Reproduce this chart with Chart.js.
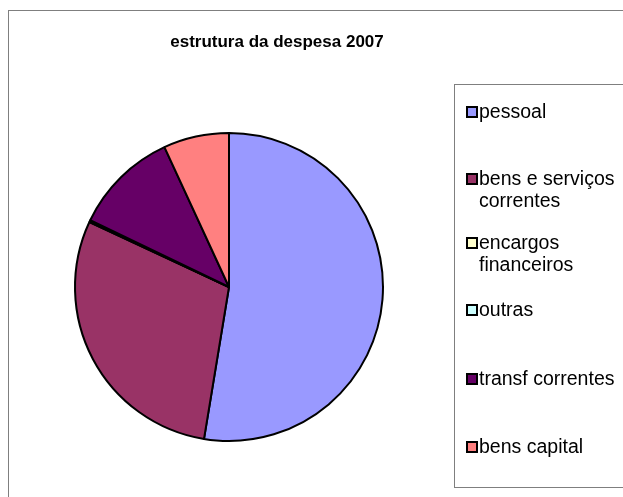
<!DOCTYPE html>
<html>
<head>
<meta charset="utf-8">
<script src="https://cdn.jsdelivr.net/npm/chart.js@4"></script>
<style>
    html, body { margin: 0; padding: 0; background: #fff; }
    #wrap { position: relative; width: 623px; height: 497px; overflow: hidden; font-family: "Liberation Sans", Arial, sans-serif; }
    #frame { position: absolute; left: 8px; top: 10px; width: 700px; height: 600px; border: 1px solid #7f7f7f; box-sizing: border-box; }
    #title { position: absolute; left: 0; width: 554px; top: 32px; text-align: center; font-weight: bold; font-size: 17px; color: #000; }
    #legend { position: absolute; left: 454px; top: 84px; width: 300px; height: 404px; border: 1px solid #7f7f7f; box-sizing: border-box; }
    .item { position: absolute; left: 11px; display: flex; align-items: flex-start; }
    .sw { width: 8px; height: 8px; border: 2px solid #000; margin-top: 6px; margin-right: 1px; flex: none; }
    .txt { width: 150px; font-size: 19.5px; line-height: 22px; color: #000; }
    canvas { position: absolute; left: 0; top: 0; }
</style>
</head>
<body>
<div id="wrap">
    <div id="frame"></div>
    <canvas id="pieChart" width="623" height="497"></canvas>
    <div id="title">estrutura da despesa 2007</div>
    <div id="legend"></div>
</div>
<script>
const labels = ['pessoal', 'bens e serviços correntes', 'encargos financeiros', 'outras', 'transf correntes', 'bens capital'];
const values = [52.7, 29.4, 0.1, 0.1, 11.0, 6.9];
const colors = ['#9999FF', '#993366', '#FFFFCC', '#CCFFFF', '#660066', '#FF8080'];

// legenda w HTML (zawijanie tekstu jak w Excelu)
const itemTops = [15, 82, 146, 213, 282, 350];
const legendEl = document.getElementById('legend');
labels.forEach((l, i) => {
    const it = document.createElement('div');
    it.className = 'item';
    it.style.top = itemTops[i] + 'px';
    it.innerHTML = `<span class="sw" style="background:${colors[i]}"></span><span class="txt">${l}</span>`;
    legendEl.appendChild(it);
});

const ctx = document.getElementById('pieChart').getContext('2d');
new Chart(ctx, {
    type: 'pie',
    data: {
        labels,
        datasets: [{ data: values, backgroundColor: colors, borderColor: '#000', borderWidth: 2 }]
    },
    options: {
        responsive: false,
        animation: false,
        layout: { padding: { left: 74, top: 132, right: 239, bottom: 55 } },
        plugins: { legend: { display: false }, title: { display: false }, tooltip: { enabled: false } }
    }
});
</script>
</body>
</html>
